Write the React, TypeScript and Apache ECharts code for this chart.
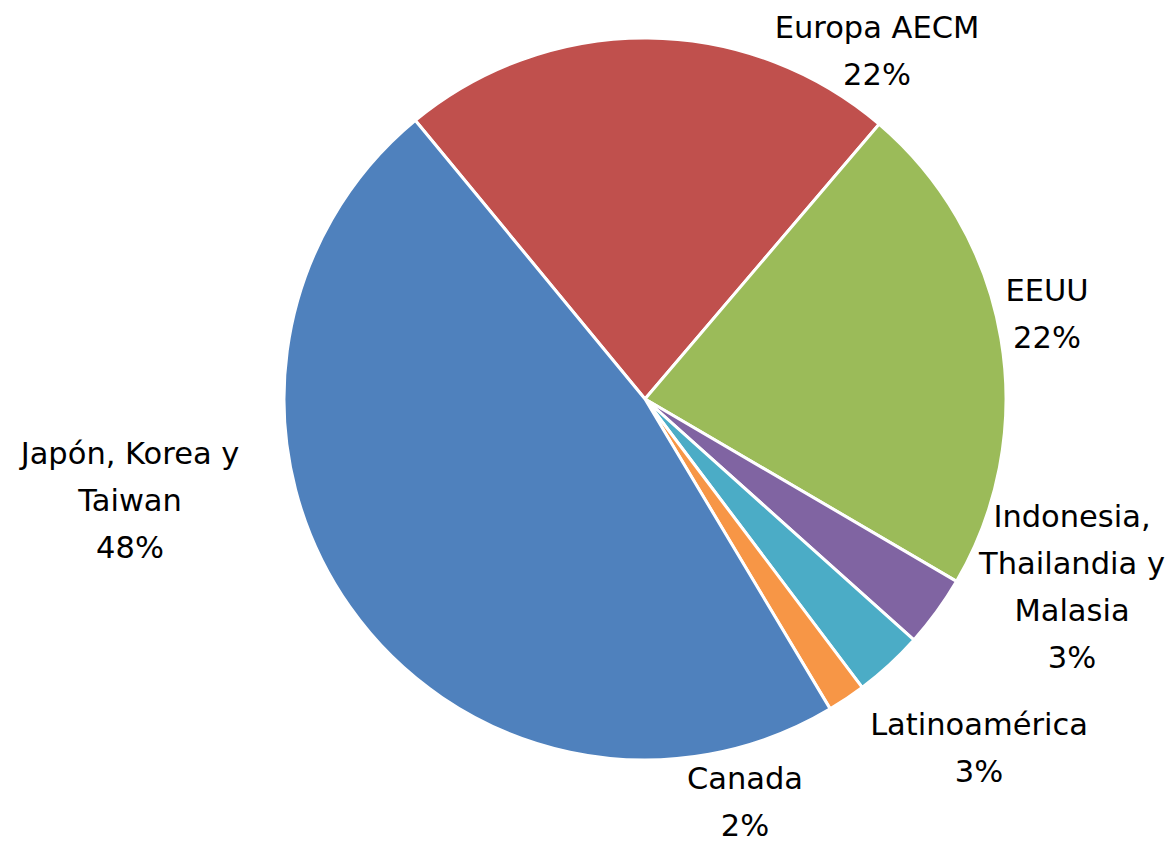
import React, { useEffect, useRef } from "react";
import * as echarts from "echarts";

const categories = [
  "Europa AECM",
  "EEUU",
  "Indonesia,\nThailandia y\nMalasia",
  "Latinoamérica",
  "Canada",
  "Japón, Korea y\nTaiwan",
];
const values = [22.2, 22.2, 3.2, 3.1, 1.7, 47.6];
const colors = ["#C0504D", "#9BBB59", "#8064A2", "#4BACC6", "#F79646", "#4F81BD"];
// label anchor centres (layout only)
const labelAnchors: [number, number][] = [
  [877, 51],
  [1047, 314],
  [1072, 587],
  [979, 748],
  [745, 802],
  [130, 500],
];

export default function App() {
  const ref = useRef<HTMLDivElement>(null);
  useEffect(() => {
    document.body.style.margin = "0";
    const chart = echarts.init(ref.current!, undefined, { renderer: "svg" });
    chart.setOption({
      animation: false,
      backgroundColor: "#ffffff",
      series: [
        {
          type: "pie",
          center: [645, 399],
          radius: 361,
          startAngle: 129.5,
          clockwise: true,
          data: categories.map((name, i) => ({
            name,
            value: values[i],
            itemStyle: { color: colors[i] },
          })),
          itemStyle: { borderColor: "#ffffff", borderWidth: 3 },
          label: {
            show: true,
            position: "outside",
            formatter: (p: any) => `${p.name}\n${Math.round(p.percent)}%`,
            fontFamily: "'DejaVu Sans', sans-serif",
            fontSize: 30.5,
            lineHeight: 47,
            color: "#000000",
            align: "center",
            overflow: "none",
            width: 400,
          },
          labelLine: { show: false },
          labelLayout: (params: any) => {
            const a = labelAnchors[params.dataIndex];
            return { x: a[0], y: a[1], align: "center", verticalAlign: "middle" };
          },
          emphasis: { disabled: true },
        },
      ],
    });
    return () => chart.dispose();
  }, []);
  return <div ref={ref} style={{ width: 1175, height: 845 }} />;
}
